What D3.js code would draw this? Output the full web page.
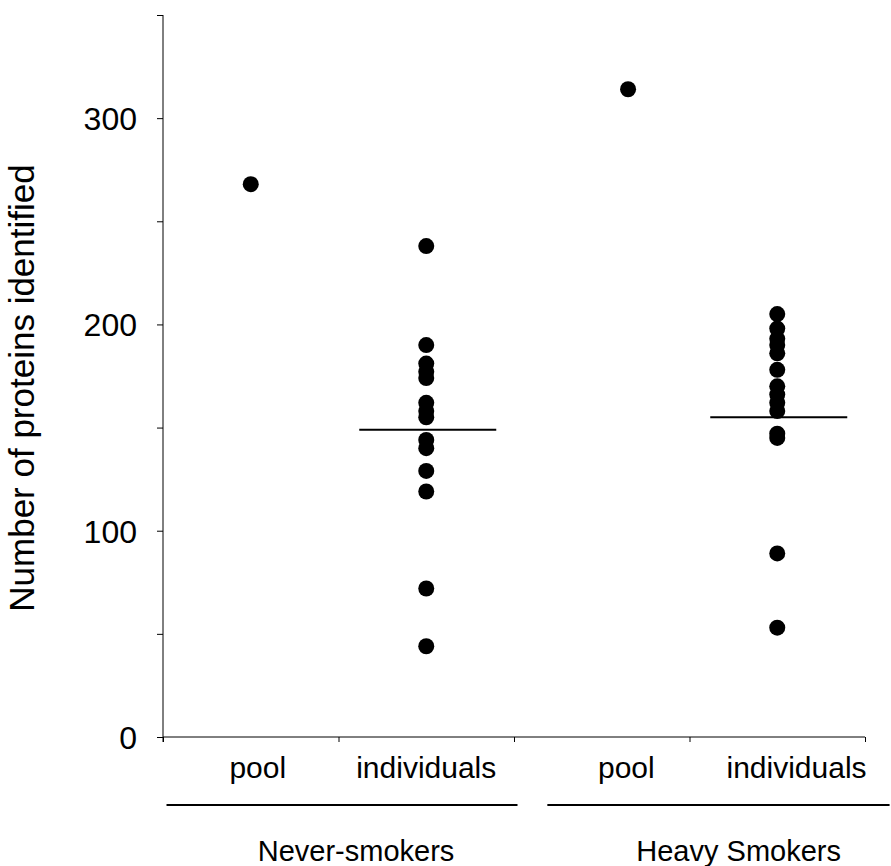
<!DOCTYPE html>
<html>
<head>
<meta charset="utf-8">
<script src="https://cdn.jsdelivr.net/npm/d3@7"></script>
<style>
  body { margin: 0; background: #fff; }
  text { font-family: "Liberation Sans", Arial, sans-serif; fill: #000; }
</style>
</head>
<body>
<div id="chart"></div>
<script>
// ---- data ----
const categories = ["pool", "individuals", "pool", "individuals"];
const catPos = [1, 2, 3.15, 4];          // x value of each column
const groups = ["Never-smokers", "Heavy Smokers"];

const neverPool = [268];
const neverIndividuals = [238, 190, 181, 177, 174, 162, 158, 155, 144, 140, 129, 119, 72, 44];
const heavyPool = [314];
const heavyIndividuals = [205, 198, 193, 190, 186, 178, 170, 166, 162, 158, 147, 145, 89, 53];
const meanLines = [149, 155];            // horizontal mark on the individuals columns

const yTicks = [0, 50, 100, 150, 200, 250, 300, 350];

// ---- layout ----
const width = 891, height = 866;
const x0 = 163, x1 = 865, yBottom = 737, yTop = 15;
const labelPos = [1.04, 2, 3.14, 4.11];  // where the category text sits
const groupSpan = [[0.52, 2.52], [2.69, 4.64]];
const groupLabelPos = [1.6, 3.78];

const svg = d3.select("#chart").append("svg")
  .attr("width", width)
  .attr("height", height);

const x = d3.scaleLinear().domain([0.5, 4.5]).range([x0, x1]);
const y = d3.scaleLinear().domain([0, 350]).range([yBottom, yTop]);

// y axis
const yAxis = svg.append("g")
  .attr("transform", `translate(${x0},0)`)
  .call(d3.axisLeft(y)
    .tickValues(yTicks)
    .tickSize(6)
    .tickPadding(20)
    .tickFormat(d => d % 100 === 0 ? d : ""));
yAxis.select(".domain").attr("d", `M0,${yTop}V${yBottom + 5}`).attr("stroke", "#000");
yAxis.selectAll("line").attr("stroke", "#000");
yAxis.selectAll("text").attr("font-size", 32).attr("dy", "0.36em");

// x axis, ticks on the column boundaries
const xAxis = svg.append("g")
  .attr("transform", `translate(0,${yBottom})`)
  .call(d3.axisBottom(x)
    .tickValues([0.5, 1.5, 2.5, 3.5, 4.5])
    .tickSize(5)
    .tickFormat(""));
xAxis.select(".domain").attr("d", `M${x0},0H${x1}`).attr("stroke", "#000");
xAxis.selectAll("line").attr("stroke", "#000");

// category labels
svg.append("g").selectAll("text")
  .data(categories)
  .join("text")
  .attr("x", (d, i) => x(labelPos[i]))
  .attr("y", 778)
  .attr("text-anchor", "middle")
  .attr("font-size", 30)
  .text(d => d);

// group lines and labels
svg.append("g").selectAll("line")
  .data(groups)
  .join("line")
  .attr("x1", (d, i) => x(groupSpan[i][0]))
  .attr("x2", (d, i) => x(groupSpan[i][1]))
  .attr("y1", 805).attr("y2", 805)
  .attr("stroke", "#000")
  .attr("stroke-width", 2);

svg.append("g").selectAll("text")
  .data(groups)
  .join("text")
  .attr("x", (d, i) => x(groupLabelPos[i]))
  .attr("y", 861)
  .attr("text-anchor", "middle")
  .attr("font-size", 29)
  .text(d => d);

// y title
svg.append("text")
  .attr("transform", "translate(34,388) rotate(-90)")
  .attr("text-anchor", "middle")
  .attr("font-size", 35)
  .text("Number of proteins identified");

// points
const columns = [neverPool, neverIndividuals, heavyPool, heavyIndividuals];
const points = columns.flatMap((vals, i) => vals.map(v => ({ col: i, v })));

svg.append("g").selectAll("circle")
  .data(points)
  .join("circle")
  .attr("cx", d => x(catPos[d.col]))
  .attr("cy", d => y(d.v))
  .attr("r", 8)
  .attr("fill", "#000");

// mean lines on the individuals columns
svg.append("g").selectAll("line")
  .data(meanLines)
  .join("line")
  .attr("x1", (d, i) => x(catPos[i * 2 + 1]) - 67)
  .attr("x2", (d, i) => x(catPos[i * 2 + 1]) + 70)
  .attr("y1", d => y(d)).attr("y2", d => y(d))
  .attr("stroke", "#000")
  .attr("stroke-width", 2);
</script>
</body>
</html>
